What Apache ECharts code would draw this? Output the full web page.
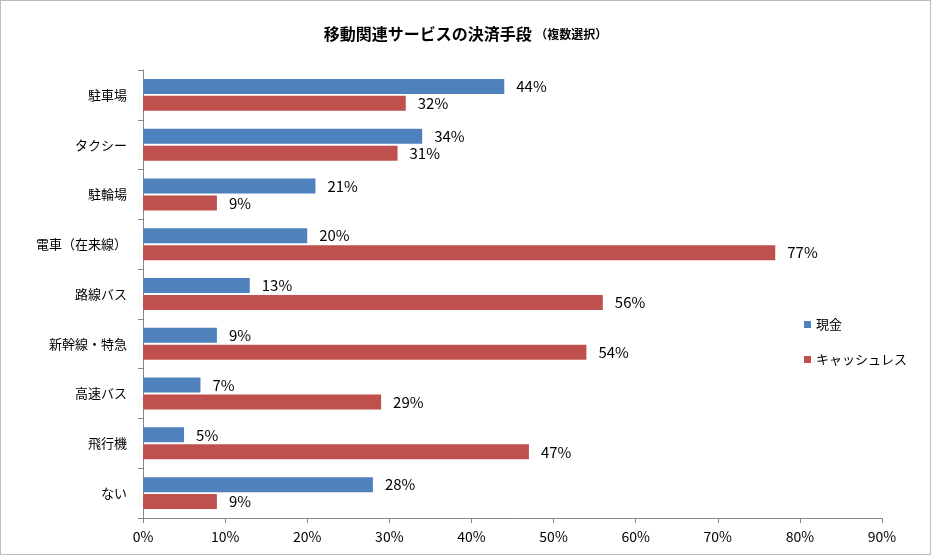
<!DOCTYPE html>
<html><head><meta charset="utf-8">
<script src="https://cdn.jsdelivr.net/npm/echarts@6/dist/echarts.min.js"></script>
<style>body{margin:0}#c{width:929px;height:553px;border:1px solid #bbb}</style>
</head><body><div id="c"></div>
<script>
var categories = ["駐車場", "タクシー", "駐輪場", "電車（在来線）", "路線バス", "新幹線・特急", "高速バス", "飛行機", "ない"];
var cash = [44, 34, 21, 20, 13, 9, 7, 5, 28];
var cashless = [32, 31, 9, 77, 56, 54, 29, 47, 9];
var font = "'Noto Sans CJK JP', sans-serif";
var chart = echarts.init(document.getElementById('c'));
chart.setOption({
    backgroundColor: "#ffffff",
    textStyle: {fontFamily: font},
    title: {
        text: "移動関連サービスの決済手段 {s|（複数選択）}",
        left: "center", top: 20,
        textStyle: {fontSize: 16, fontWeight: "bold", color: "#000", fontFamily: font,
            rich: {s: {fontSize: 12, fontWeight: "bold", fontFamily: font}}}
    },
    legend: {
        orient: "vertical", left: 798, top: 312, itemGap: 22,
        itemWidth: 7, itemHeight: 7, icon: "rect",
        textStyle: {fontSize: 13, color: "#000", fontFamily: font},
        data: ["現金", "キャッシュレス"]
    },
    grid: {left: 142, top: 69, width: 739, height: 448},
    xAxis: {
        type: "value", min: 0, max: 90, interval: 10,
        axisLabel: {formatter: "{value}%", fontSize: 14, color: "#000", margin: 12},
        axisLine: {show: true, lineStyle: {color: "#888"}},
        axisTick: {show: true, length: 5, lineStyle: {color: "#888"}},
        splitLine: {show: false}
    },
    yAxis: {
        type: "category", inverse: true, data: categories,
        axisLabel: {fontSize: 13, color: "#000", margin: 16},
        axisLine: {lineStyle: {color: "#888"}},
        axisTick: {show: true, length: 5, lineStyle: {color: "#888"}}
    },
    series: [{
        name: "現金", type: "bar", data: cash, barWidth: 15, barGap: "13%",
        itemStyle: {color: "#4f81bd"},
        label: {show: true, position: "right", formatter: "{c}%", fontSize: 15, color: "#000", distance: 12}
    }, {
        name: "キャッシュレス", type: "bar", data: cashless, barWidth: 15,
        itemStyle: {color: "#c0504d"},
        label: {show: true, position: "right", formatter: "{c}%", fontSize: 15, color: "#000", distance: 12}
    }]
});
</script></body></html>
